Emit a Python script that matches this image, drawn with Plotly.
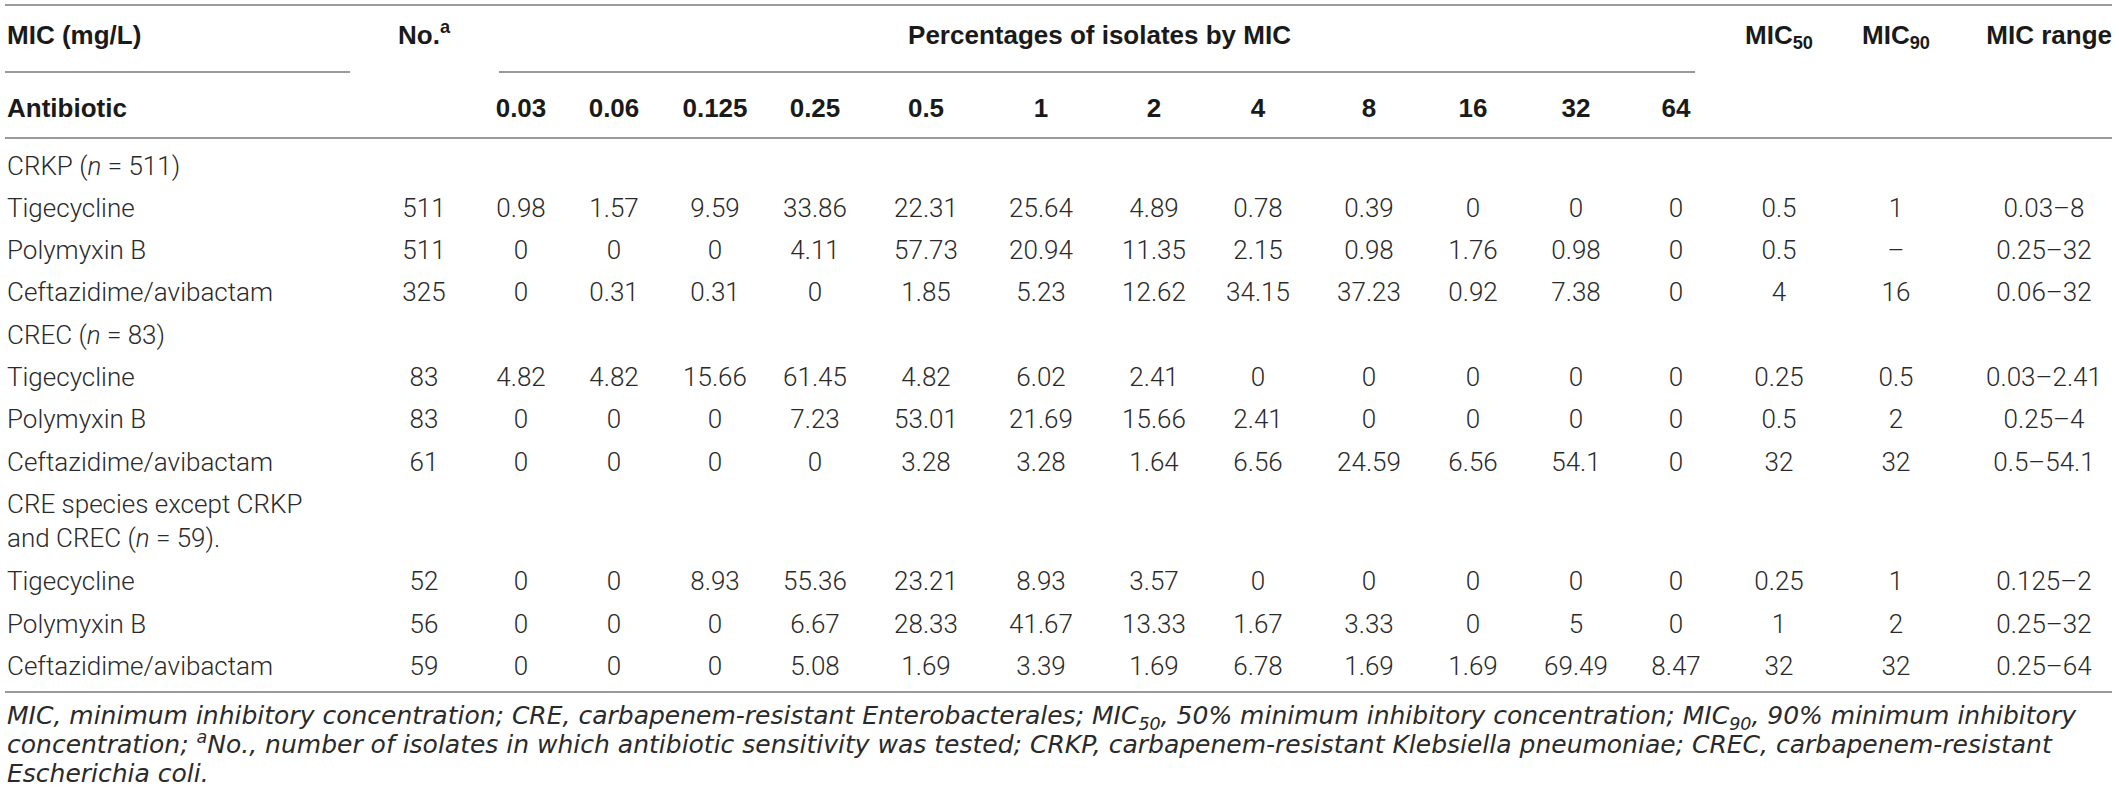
import plotly.graph_objects as go

# ---------------- table data ----------------
mic_levels = ["0.03", "0.06", "0.125", "0.25", "0.5", "1", "2", "4", "8", "16", "32", "64"]
groups = ["CRKP (<i>n</i> = 511)",
          "CREC (<i>n</i> = 83)",
          "CRE species except CRKP<br>and CREC (<i>n</i> = 59)."]
antibiotics = ["Tigecycline", "Polymyxin B", "Ceftazidime/avibactam"]

crkp_no = [511, 511, 325]
crkp_pct = [
    [0.98, 1.57, 9.59, 33.86, 22.31, 25.64, 4.89, 0.78, 0.39, 0, 0, 0],
    [0, 0, 0, 4.11, 57.73, 20.94, 11.35, 2.15, 0.98, 1.76, 0.98, 0],
    [0, 0.31, 0.31, 0, 1.85, 5.23, 12.62, 34.15, 37.23, 0.92, 7.38, 0],
]
crkp_mic50 = [0.5, 0.5, 4]
crkp_mic90 = [1, None, 16]
crkp_range = ["0.03–8", "0.25–32", "0.06–32"]

crec_no = [83, 83, 61]
crec_pct = [
    [4.82, 4.82, 15.66, 61.45, 4.82, 6.02, 2.41, 0, 0, 0, 0, 0],
    [0, 0, 0, 7.23, 53.01, 21.69, 15.66, 2.41, 0, 0, 0, 0],
    [0, 0, 0, 0, 3.28, 3.28, 1.64, 6.56, 24.59, 6.56, 54.1, 0],
]
crec_mic50 = [0.25, 0.5, 32]
crec_mic90 = [0.5, 2, 32]
crec_range = ["0.03–2.41", "0.25–4", "0.5–54.1"]

other_no = [52, 56, 59]
other_pct = [
    [0, 0, 8.93, 55.36, 23.21, 8.93, 3.57, 0, 0, 0, 0, 0],
    [0, 0, 0, 6.67, 28.33, 41.67, 13.33, 1.67, 3.33, 0, 5, 0],
    [0, 0, 0, 5.08, 1.69, 3.39, 1.69, 6.78, 1.69, 1.69, 69.49, 8.47],
]
other_mic50 = [0.25, 1, 32]
other_mic90 = [1, 2, 32]
other_range = ["0.125–2", "0.25–32", "0.25–64"]

footnote = [
    "MIC, minimum inhibitory concentration; CRE, carbapenem-resistant Enterobacterales; "
    "MIC<sub>50</sub>, 50% minimum inhibitory concentration; MIC<sub>90</sub>, 90% minimum inhibitory",
    "concentration; <sup>a</sup>No., number of isolates in which antibiotic sensitivity was tested; "
    "CRKP, carbapenem-resistant Klebsiella pneumoniae; CREC, carbapenem-resistant",
    "Escherichia coli.",
]

# ---------------- layout settings ----------------
W, H = 2119, 809
left_x, right_x = 7, 2112
no_x = 424
mic_x = [521, 614, 715, 815, 926, 1041, 1154, 1258, 1369, 1473, 1576, 1676]
mic50_x, mic90_x, range_x = 1779, 1896, 2044
head1_y, head2_y = 37, 110
first_row_y = 168
row_h = 42.3
extra_line = 35
foot_y0, foot_dy = 718, 29

BODY = dict(family="Roboto", size=26, color="#2a2a2a", weight=300)
BOLD = dict(family="Liberation Sans", size=26, color="#1a1a1a", weight="bold")
FOOT = dict(family="DejaVu Sans", size=25, color="#2a2a2a", weight=300, style="italic")
RULE = dict(color="#9a9a9a", width=2)


def fmt(v):
    return "–" if v is None else f"{v:g}"


def text_trace(x, y, text, font, pos):
    return go.Scatter(x=x, y=y, text=text, mode="text", textposition=pos,
                      textfont=font, cliponaxis=False, hoverinfo="skip",
                      showlegend=False)


blocks = [
    (crkp_no, crkp_pct, crkp_mic50, crkp_mic90, crkp_range),
    (crec_no, crec_pct, crec_mic50, crec_mic90, crec_range),
    (other_no, other_pct, other_mic50, other_mic90, other_range),
]

# group labels, antibiotic labels and centred cells
gx, gy, gt = [], [], []
ax, ay, at = [], [], []
cx, cy, ct = [], [], []
y = first_row_y
for g, (nos, pcts, m50, m90, rng) in zip(groups, blocks):
    lines = g.count("<br>")
    gx.append(left_x)
    gy.append(y + lines * extra_line / 2)
    gt.append(g)
    y += row_h + lines * extra_line
    for i, ab in enumerate(antibiotics):
        ax.append(left_x); ay.append(y); at.append(ab)
        row = [nos[i]] + pcts[i] + [m50[i], m90[i]]
        xs = [no_x] + mic_x + [mic50_x, mic90_x]
        for xv, val in zip(xs, row):
            cx.append(xv); cy.append(y); ct.append(fmt(val))
        cx.append(range_x); cy.append(y); ct.append(rng[i])
        y += row_h

fig = go.Figure()
fig.add_trace(text_trace(gx, gy, gt, BODY, "middle right"))
fig.add_trace(text_trace(ax, ay, at, BODY, "middle right"))
fig.add_trace(text_trace(cx, cy, ct, BODY, "middle center"))

# header rows
fig.add_trace(text_trace([left_x, left_x], [head1_y, head2_y],
                         ["MIC (mg/L)", "Antibiotic"], BOLD, "middle right"))
top_x = [no_x, (mic_x[0] + mic_x[-1]) / 2 + 1, mic50_x, mic90_x]
top_t = ["No.<sup>a</sup>", "Percentages of isolates by MIC", "MIC<sub>50</sub>",
         "MIC<sub>90</sub>"]
fig.add_trace(text_trace(top_x, [head1_y] * len(top_x), top_t, BOLD, "middle center"))
fig.add_trace(text_trace([right_x], [head1_y], ["MIC range"], BOLD, "middle left"))
fig.add_trace(text_trace(mic_x, [head2_y] * len(mic_x), mic_levels, BOLD, "middle center"))

# footnote
fig.add_trace(text_trace([left_x] * len(footnote),
                         [foot_y0 + k * foot_dy for k in range(len(footnote))],
                         footnote, FOOT, "middle right"))

# rules
rules = [(5, right_x, 5), (5, 350, 72), (499, 1695, 72), (5, right_x, 138), (5, right_x, 692)]
for x0, x1, yy in rules:
    fig.add_shape(type="line", x0=x0, x1=x1, y0=yy, y1=yy, xref="x", yref="y", line=RULE)

fig.update_layout(
    width=W, height=H,
    margin=dict(l=0, r=0, t=0, b=0),
    paper_bgcolor="white", plot_bgcolor="white",
    xaxis=dict(range=[0, W], visible=False, fixedrange=True),
    yaxis=dict(range=[H, 0], visible=False, fixedrange=True),
)

# drop the default page margin so the figure sits at the window's corner
fig.write_html("out.html", config={"displayModeBar": False},
               post_script="document.body.style.margin='0';")
